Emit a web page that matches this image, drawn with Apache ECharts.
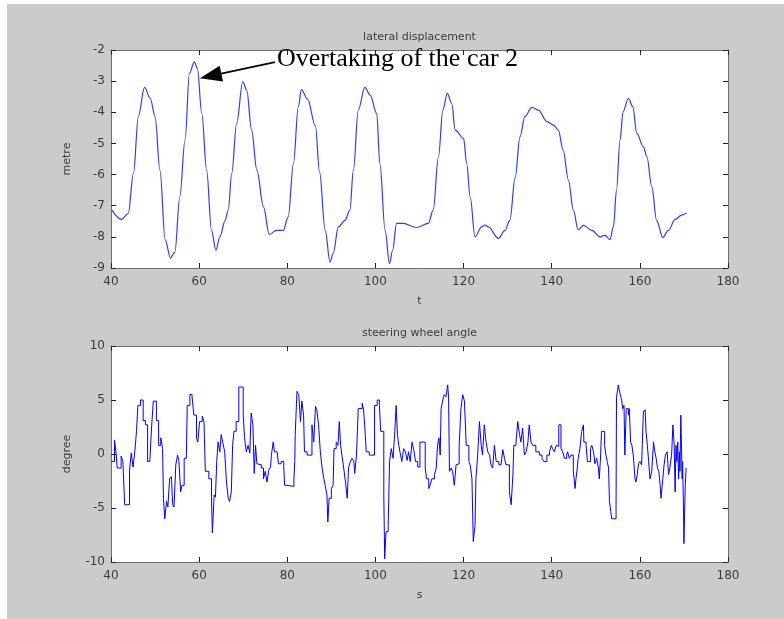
<!DOCTYPE html>
<html>
<head>
<meta charset="utf-8">
<script src="https://cdn.jsdelivr.net/npm/echarts@6/dist/echarts.min.js"></script>
<style>html,body{margin:0;padding:0;background:#fff}#c{width:784px;height:619px}</style>
</head>
<body>
<div id="c"></div>
<script>
// lateral displacement (metre) vs t
const latT = [40.2,42.4,43.9,45.1,46.2,47.6,48.9,50.0,51.1,52.3,53.5,54.5,55.6,56.8,57.8,58.9,59.6,60.6,61.7,62.8,63.8,64.7,65.9,66.6,67.4,68.5,69.9,70.8,71.9,73.1,74.6,75.9,77.6,79.1,80.2,81.4,82.5,83.2,84.6,86.4,87.3,88.6,89.7,90.4,91.6,93.1,94.2,95.0,96.1,97.6,98.8,100.3,101.0,102.2,103.2,103.9,104.8,106.3,109.3,112.0,113.1,114.3,115.3,116.3,117.3,118.1,120.0,120.7,121.5,122.6,124.1,124.9,125.6,127.9,129.4,130.5,131.7,132.8,133.9,135.5,137.0,138.9,140.4,141.5,142.6,143.8,144.9,146.0,147.2,149.1,151.0,152.1,153.2,154.0,154.7,155.5,156.2,157.4,158.4,159.3,160.8,161.6,162.7,163.8,165.2,166.5,168.0,169.5,170.6];
const latY = [-7.14,-7.44,-7.25,-5.96,-4.14,-3.2,-3.55,-4.14,-5.86,-8.1,-8.68,-8.49,-6.72,-4.89,-2.75,-2.38,-2.59,-4.04,-5.86,-7.79,-8.43,-8.0,-7.47,-7.14,-5.96,-4.36,-3.02,-3.29,-4.57,-5.86,-7.04,-7.92,-7.79,-7.79,-7.36,-5.64,-3.82,-3.27,-3.58,-4.45,-5.9,-7.79,-8.81,-8.54,-7.68,-7.47,-7.14,-5.86,-3.93,-3.2,-3.45,-4.04,-5.64,-7.79,-8.86,-8.43,-7.57,-7.57,-7.7,-7.57,-7.14,-5.43,-3.93,-3.39,-3.71,-4.57,-4.84,-5.64,-6.72,-8.0,-7.68,-7.62,-7.68,-8.05,-7.79,-7.47,-6.1,-4.79,-4.14,-3.84,-3.93,-4.3,-4.41,-4.57,-5.22,-6.18,-7.14,-7.77,-7.63,-7.79,-8.0,-7.95,-8.09,-7.68,-6.5,-4.89,-3.98,-3.55,-3.82,-4.68,-5.11,-5.43,-6.39,-7.47,-8.02,-7.79,-7.44,-7.3,-7.23];

// steering wheel angle (degree) vs s
const steerT = [40.1,40.8,41.2,41.4,42.3,42.7,43.1,44.2,44.6,45.0,45.4,45.8,46.1,46.7,47.3,47.8,48.3,48.8,49.2,49.6,50.3,50.8,51.3,51.7,51.9,52.2,52.6,52.9,53.3,53.7,54.0,54.3,54.7,55.1,55.4,55.8,56.1,56.6,57.1,57.3,57.9,58.4,58.8,59.4,59.7,60.1,60.7,61.1,61.4,62.2,62.8,63.0,63.4,63.7,64.0,64.3,64.7,65.0,65.4,65.8,66.2,66.6,66.9,67.3,67.6,67.9,68.4,69.0,70.0,70.3,70.7,71.1,71.5,71.8,72.2,72.5,72.8,73.1,73.5,74.1,
74.6,75.0,75.4,75.8,76.2,76.4,76.8,77.1,77.7,78.0,78.6,79.2,79.4,79.9,81.5,81.7,81.8,82.2,82.6,83.0,83.3,83.7,83.9,84.5,85.6,86.0,86.4,86.7,87.1,87.5,87.9,88.3,88.6,89.0,89.2,89.5,90.0,90.4,90.6,91.1,91.5,91.8,92.1,92.4,92.8,93.2,93.6,93.9,94.3,94.7,95.1,95.3,95.7,96.1,97.0,97.3,97.7,97.9,98.6,99.8,100.4,100.9,101.2,101.9,102.1,102.4,102.9,103.2,103.6,104.0,104.4,104.7,105.0,105.3,105.7,106.0,106.4,106.8,107.2,107.5,107.9,108.3,108.7,109.1,
109.6,110.1,111.3,111.6,112.1,112.4,112.8,113.4,113.8,114.1,114.4,114.7,114.9,115.3,115.6,116.0,116.4,116.6,116.8,117.2,117.5,117.9,118.3,118.7,119.0,119.4,119.8,120.2,120.6,121.2,121.5,121.9,122.2,122.6,122.8,123.2,123.6,124.0,124.3,124.7,125.1,125.5,125.9,126.2,126.6,127.0,127.4,128.0,128.5,128.9,129.3,129.6,130.4,130.8,131.2,131.4,131.9,132.3,132.7,133.0,133.4,133.8,134.2,134.6,134.9,135.3,135.7,136.4,137.2,137.8,138.2,138.9,139.5,139.9,140.2,140.6,141.0,141.4,141.6,142.1,142.5,142.9,143.4,143.6,144.0,144.4,
144.9,145.3,145.5,145.8,146.0,146.4,146.8,147.2,147.3,147.8,148.1,148.8,149.1,149.5,149.8,150.2,150.6,150.8,151.1,151.3,152.0,152.3,152.6,152.9,153.1,153.4,153.6,154.6,154.7,155.1,155.5,155.9,156.1,156.4,156.6,156.9,157.4,157.6,157.9,158.2,158.5,158.9,159.1,159.4,159.7,160.0,160.4,160.8,161.2,161.4,161.7,162.0,162.3,162.7,163.1,163.4,163.7,164.0,164.3,164.6,164.8,165.2,165.5,165.8,166.2,166.5,166.8,167.2,167.5,167.8,168.0,168.2,168.4,168.6,168.8,169.0,169.1,169.3,169.6,169.7,169.9,170.0,170.3,170.5];
const steerY = [-0.7,1.3,-0.1,-1.3,-0.2,-0.7,-4.7,-1.5,0.1,-1.2,0.2,2.2,4.5,5.0,3.1,2.7,-0.7,-0.6,2.4,4.9,3.1,0.8,1.5,0.5,-4.1,-6.0,-4.4,-4.9,-2.3,-2.1,-4.7,-4.9,-1.0,-0.1,-0.6,-3.5,-2.9,-0.4,-0.1,4.5,5.5,5.3,3.6,1.5,1.1,3.0,3.5,3.0,-1.6,-2.3,-4.0,-7.3,-3.8,-4.0,-0.6,1.1,0.2,1.8,1.0,0.2,-2.6,-4.1,-4.4,-3.5,0.8,2.1,3.0,6.2,3.6,1.5,0.2,0.8,0.1,3.8,2.7,-1.8,0.8,-0.9,-1.0,-1.3,
-2.3,-1.6,-2.6,-1.5,-1.2,-0.1,1.1,0.2,0.1,-0.9,-0.7,-1.2,-2.9,-3.0,-2.3,-0.7,1.8,5.8,5.5,3.0,4.9,3.6,0.2,-0.1,2.7,1.1,4.4,4.1,2.7,0.2,-1.3,-2.3,-2.9,-3.8,-6.3,-4.1,-3.2,-2.9,0.5,1.1,0.8,3.0,0.8,-0.1,-1.3,-2.6,-4.1,-1.3,-0.7,-0.4,-0.7,-1.8,-0.1,4.2,4.7,4.1,1.8,0.2,-0.1,4.5,5.0,4.5,2.1,-3.8,-9.7,-7.2,-6.6,-0.7,0.5,-0.4,2.1,4.5,1.8,0.8,-0.1,-0.7,0.5,0.2,-0.6,0.2,-0.7,1.1,0.4,-0.7,
-1.2,1.1,-1.3,-2.3,-3.2,-2.9,-2.3,-1.9,-1.3,0.8,1.5,-0.1,4.2,5.0,5.5,5.3,6.4,5.2,-1.6,-1.3,-1.6,-2.9,-1.0,-0.9,0.8,4.2,5.5,4.9,0.8,-0.7,-1.0,-2.3,-8.1,-6.6,-2.3,-0.1,3.0,0.8,-0.1,2.7,1.1,0.2,-0.1,-1.0,-1.3,0.8,-0.7,-1.0,-0.9,0.4,-0.4,-1.0,-3.5,-4.7,-1.9,0.8,1.1,3.0,1.8,1.1,2.4,-0.1,0.2,1.1,2.7,1.1,0.8,0.2,-0.1,-0.4,-0.7,-0.1,0.2,0.8,0.5,0.2,0.8,0.7,2.7,0.5,0.2,-0.4,-0.1,0.2,-0.4,-0.1,
-1.6,-3.2,-2.3,-1.3,-0.4,0.5,2.1,2.7,1.1,0.8,-0.7,0.5,0.8,0.2,-0.9,-0.4,-1.3,-2.3,-0.1,2.1,0.8,-0.1,-0.7,-1.3,-4.4,-5.3,-6.0,-4.7,5.2,6.4,5.6,4.9,4.2,4.5,-0.1,4.2,3.6,4.2,1.1,0.8,-0.1,-2.3,-2.6,-1.9,-0.9,-0.7,-1.0,3.9,4.1,2.1,0.8,-0.7,-2.3,-1.6,1.1,0.2,-0.4,-1.3,-1.6,-2.9,-4.1,-2.3,-1.0,-0.1,0.2,-1.9,-1.3,-0.1,2.7,0.8,-3.5,0.8,-0.7,1.1,-2.3,0.2,-1.6,3.6,-2.3,-0.7,-5.0,-8.3,-2.9,-1.3];

const titles = ['lateral displacement', 'steering wheel angle'];
const xNames = ['t', 's'];
const yNames = ['metre', 'degree'];
const annotationText = 'Overtaking of the car 2';

const FONT = 'DejaVu Sans';
const lblStyle = {color: '#3a3a3a', fontSize: 12, fontFamily: FONT};
const nameStyle = {color: '#3a3a3a', fontSize: 11, fontFamily: FONT};
const lineCol = '#6e6e6e';

function xAxis(gi, pos, name) {
  return {
    gridIndex: gi, type: 'value', min: 40, max: 180, interval: 20, position: pos,
    axisLine: {show: true, onZero: false, lineStyle: {color: lineCol, width: 1}},
    axisTick: {show: true, inside: true, length: 5, lineStyle: {color: '#222'}},
    axisLabel: pos === 'bottom' ? Object.assign({margin: 8}, lblStyle) : {show: false},
    splitLine: {show: false},
    name: pos === 'bottom' ? name : '', nameLocation: 'middle', nameGap: 28, nameTextStyle: nameStyle
  };
}
function yAxis(gi, pos, min, max, interval, name) {
  return {
    gridIndex: gi, type: 'value', min: min, max: max, interval: interval, position: pos,
    axisLine: {show: true, onZero: false, lineStyle: {color: lineCol, width: 1}},
    axisTick: {show: true, inside: true, length: 5, lineStyle: {color: '#222'}},
    axisLabel: pos === 'left' ? Object.assign({margin: 6}, lblStyle) : {show: false},
    splitLine: {show: false},
    name: pos === 'left' ? name : '', nameLocation: 'middle', nameGap: 38, nameTextStyle: nameStyle
  };
}

const chart = echarts.init(document.getElementById('c'), null, {renderer: 'canvas'});
const option = {
  animation: false,
  backgroundColor: '#cbcbcb',
  grid: [
    {left: 111, top: 50, width: 617, height: 218, show: true, backgroundColor: '#ffffff', borderWidth: 0},
    {left: 111, top: 346, width: 617, height: 216, show: true, backgroundColor: '#ffffff', borderWidth: 0}
  ],
  xAxis: [xAxis(0, 'bottom', xNames[0]), xAxis(0, 'top', ''), xAxis(1, 'bottom', xNames[1]), xAxis(1, 'top', '')],
  yAxis: [yAxis(0, 'left', -9, -2, 1, yNames[0]), yAxis(0, 'right', -9, -2, 1, ''),
          yAxis(1, 'left', -10, 10, 5, yNames[1]), yAxis(1, 'right', -10, 10, 5, '')],
  series: [
    {
      type: 'line', xAxisIndex: 0, yAxisIndex: 0, showSymbol: false, smooth: 0.35, smoothMonotone: 'x',
      lineStyle: {color: '#2b3cff', width: 1.2},
      data: latT.map((t, i) => [t, latY[i]]),
      markLine: {
        silent: true, animation: false,
        symbol: ['none', 'triangle'], symbolSize: [16, 22],
        lineStyle: {color: '#000', width: 1.6, type: 'solid'},
        label: {show: false},
        data: [[{coord: [77.2, -2.39]}, {coord: [62.6, -2.83]}]]
      }
    },
    {
      type: 'line', xAxisIndex: 2, yAxisIndex: 2, showSymbol: false, step: 'end',
      lineStyle: {color: '#0000ff', width: 1},
      data: steerT.map((t, i) => [t, steerY[i]])
    }
  ],
  graphic: [
    {type: 'rect', shape: {x: 0, y: 0, width: 784, height: 4}, style: {fill: '#ffffff'}, silent: true},
    {type: 'rect', shape: {x: 0, y: 0, width: 7, height: 619}, style: {fill: '#ffffff'}, silent: true},
    {type: 'text', x: 419.5, y: 37, style: {text: titles[0], textAlign: 'center', textVerticalAlign: 'middle', fill: '#3a3a3a', font: '11px "DejaVu Sans"'}},
    {type: 'text', x: 419.5, y: 333, style: {text: titles[1], textAlign: 'center', textVerticalAlign: 'middle', fill: '#3a3a3a', font: '11px "DejaVu Sans"'}},
    {type: 'text', x: 277, y: 59, z: 10, style: {text: annotationText, textAlign: 'left', textVerticalAlign: 'middle', fill: '#000', font: '26px "Liberation Serif"'}}
  ]
};
chart.setOption(option);
</script>
</body>
</html>
